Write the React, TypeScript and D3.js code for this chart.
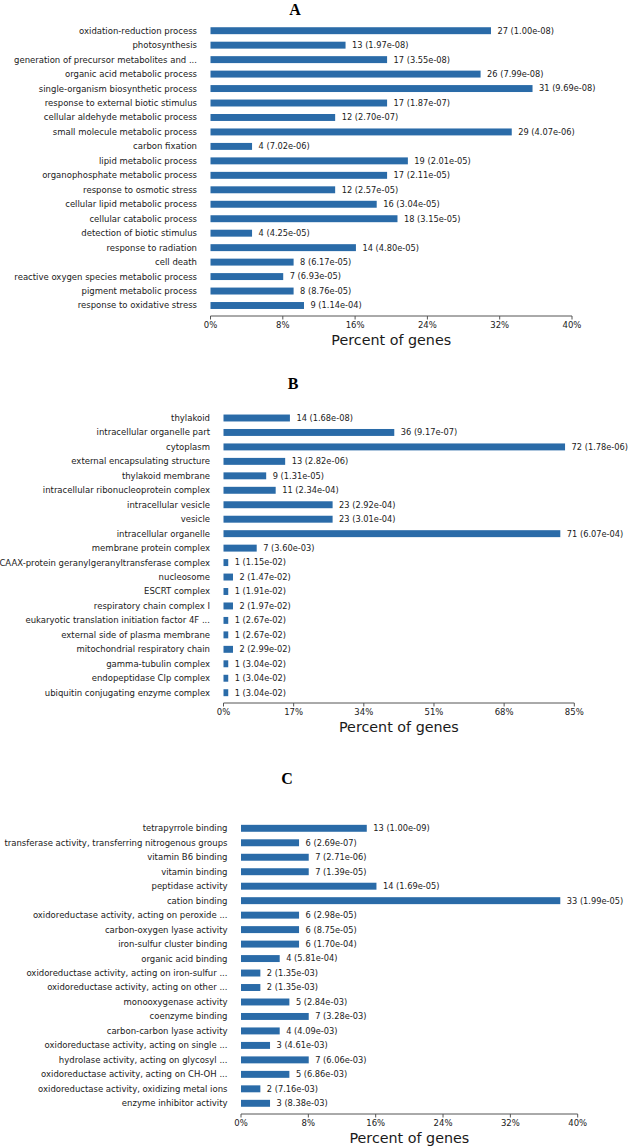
import React from "react";
import * as d3 from "d3";

// ---------- Panel A: biological process ----------
const labelsA = [
  "oxidation-reduction process",
  "photosynthesis",
  "generation of precursor metabolites and ...",
  "organic acid metabolic process",
  "single-organism biosynthetic process",
  "response to external biotic stimulus",
  "cellular aldehyde metabolic process",
  "small molecule metabolic process",
  "carbon fixation",
  "lipid metabolic process",
  "organophosphate metabolic process",
  "response to osmotic stress",
  "cellular lipid metabolic process",
  "cellular catabolic process",
  "detection of biotic stimulus",
  "response to radiation",
  "cell death",
  "reactive oxygen species metabolic process",
  "pigment metabolic process",
  "response to oxidative stress",
];
const countsA = [27, 13, 17, 26, 31, 17, 12, 29, 4, 19, 17, 12, 16, 18, 4, 14, 8, 7, 8, 9];
const pvalsA = [
  "1.00e-08", "1.97e-08", "3.55e-08", "7.99e-08", "9.69e-08", "1.87e-07", "2.70e-07",
  "4.07e-06", "7.02e-06", "2.01e-05", "2.11e-05", "2.57e-05", "3.04e-05", "3.15e-05",
  "4.25e-05", "4.80e-05", "6.17e-05", "6.93e-05", "8.76e-05", "1.14e-04",
];
const ticksA = [0, 8, 16, 24, 32, 40];

// ---------- Panel B: cellular component ----------
const labelsB = [
  "thylakoid",
  "intracellular organelle part",
  "cytoplasm",
  "external encapsulating structure",
  "thylakoid membrane",
  "intracellular ribonucleoprotein complex",
  "intracellular vesicle",
  "vesicle",
  "intracellular organelle",
  "membrane protein complex",
  "CAAX-protein geranylgeranyltransferase complex",
  "nucleosome",
  "ESCRT complex",
  "respiratory chain complex I",
  "eukaryotic translation initiation factor 4F ...",
  "external side of plasma membrane",
  "mitochondrial respiratory chain",
  "gamma-tubulin complex",
  "endopeptidase Clp complex",
  "ubiquitin conjugating enzyme complex",
];
const countsB = [14, 36, 72, 13, 9, 11, 23, 23, 71, 7, 1, 2, 1, 2, 1, 1, 2, 1, 1, 1];
const pvalsB = [
  "1.68e-08", "9.17e-07", "1.78e-06", "2.82e-06", "1.31e-05", "2.34e-04", "2.92e-04",
  "3.01e-04", "6.07e-04", "3.60e-03", "1.15e-02", "1.47e-02", "1.91e-02", "1.97e-02",
  "2.67e-02", "2.67e-02", "2.99e-02", "3.04e-02", "3.04e-02", "3.04e-02",
];
const ticksB = [0, 17, 34, 51, 68, 85];

// ---------- Panel C: molecular function ----------
const labelsC = [
  "tetrapyrrole binding",
  "transferase activity, transferring nitrogenous groups",
  "vitamin B6 binding",
  "vitamin binding",
  "peptidase activity",
  "cation binding",
  "oxidoreductase activity, acting on peroxide ...",
  "carbon-oxygen lyase activity",
  "iron-sulfur cluster binding",
  "organic acid binding",
  "oxidoreductase activity, acting on iron-sulfur ...",
  "oxidoreductase activity, acting on other ...",
  "monooxygenase activity",
  "coenzyme binding",
  "carbon-carbon lyase activity",
  "oxidoreductase activity, acting on single ...",
  "hydrolase activity, acting on glycosyl ...",
  "oxidoreductase activity, acting on CH-OH ...",
  "oxidoreductase activity, oxidizing metal ions",
  "enzyme inhibitor activity",
];
const countsC = [13, 6, 7, 7, 14, 33, 6, 6, 6, 4, 2, 2, 5, 7, 4, 3, 7, 5, 2, 3];
const pvalsC = [
  "1.00e-09", "2.69e-07", "2.71e-06", "1.39e-05", "1.69e-05", "1.99e-05", "2.98e-05",
  "8.75e-05", "1.70e-04", "5.81e-04", "1.35e-03", "1.35e-03", "2.84e-03", "3.28e-03",
  "4.09e-03", "4.61e-03", "6.06e-03", "6.86e-03", "7.16e-03", "8.38e-03",
];
const ticksC = [0, 8, 16, 24, 32, 40];

const TOTAL_GENES = 87;
const titles = ["A", "B", "C"];

const BAR_COLOR = "#2a6ba8";
const TEXT_COLOR = "#1a1a1a";
const FONT = "'DejaVu Sans', sans-serif";

type PanelProps = {
  title: string;
  labels: string[];
  counts: number[];
  pvals: string[];
  ticks: number[];
  titleX: number;
  titleY: number;
  x0: number;
  x1: number;
  firstY: number;
  lastY: number;
  axisY: number;
};

function Panel(p: PanelProps) {
  const n = p.labels.length;
  const step = (p.lastY - p.firstY) / (n - 1);
  const pad = 0.52;
  const y = d3
    .scaleBand<number>()
    .domain(d3.range(n))
    .range([p.firstY - step / 2, p.lastY + step / 2])
    .paddingInner(pad)
    .paddingOuter(pad / 2);
  const x = d3
    .scaleLinear()
    .domain([p.ticks[0], p.ticks[p.ticks.length - 1]])
    .range([p.x0, p.x1]);
  const pct = (c: number) => (c / TOTAL_GENES) * 100;

  return (
    <g>
      <text
        x={p.titleX}
        y={p.titleY}
        textAnchor="middle"
        fontFamily="'Liberation Serif', 'Times New Roman', serif"
        fontWeight="bold"
        fontSize={16}
        fill="#000"
      >
        {p.title}
      </text>
      {p.labels.map((lab, i) => {
        const yc = (y(i) as number) + y.bandwidth() / 2;
        const xe = x(pct(p.counts[i]));
        return (
          <g key={i}>
            <text
              x={p.x0 - 13.5}
              y={yc}
              dy="0.35em"
              textAnchor="end"
              fontFamily={FONT}
              fontSize={8.5}
              fill={TEXT_COLOR}
            >
              {lab}
            </text>
            <rect
              x={x(0)}
              y={y(i) as number}
              width={xe - x(0)}
              height={y.bandwidth()}
              fill={BAR_COLOR}
            />
            <text
              x={xe + 6.5}
              y={yc}
              dy="0.35em"
              fontFamily={FONT}
              fontSize={8.25}
              fill={TEXT_COLOR}
            >
              {`${p.counts[i]} (${p.pvals[i]})`}
            </text>
          </g>
        );
      })}
      <line
        x1={x(p.ticks[0])}
        x2={x(p.ticks[p.ticks.length - 1])}
        y1={p.axisY}
        y2={p.axisY}
        stroke="#555"
        strokeWidth={1}
      />
      {p.ticks.map((t) => (
        <g key={t}>
          <line x1={x(t)} x2={x(t)} y1={p.axisY} y2={p.axisY + 3.5} stroke="#555" strokeWidth={1} />
          <text
            x={x(t)}
            y={p.axisY + 11.5}
            textAnchor="middle"
            fontFamily={FONT}
            fontSize={8.5}
            fill={TEXT_COLOR}
          >
            {`${t}%`}
          </text>
        </g>
      ))}
      <text
        x={(p.x0 + p.x1) / 2}
        y={p.axisY + 29}
        textAnchor="middle"
        fontFamily={FONT}
        fontSize={14.3}
        fill={TEXT_COLOR}
      >
        Percent of genes
      </text>
    </g>
  );
}

export default function App() {
  return (
    <svg
      width={629}
      height={1146}
      style={{ position: "absolute", left: 0, top: 0, background: "#fff" }}
    >
      <rect x={0} y={0} width={629} height={1146} fill="#fff" />
      <Panel
        title={titles[0]}
        labels={labelsA}
        counts={countsA}
        pvals={pvalsA}
        ticks={ticksA}
        titleX={295}
        titleY={14.5}
        x0={210.5}
        x1={572}
        firstY={30.7}
        lastY={305.5}
        axisY={316}
      />
      <Panel
        title={titles[1]}
        labels={labelsB}
        counts={countsB}
        pvals={pvalsB}
        ticks={ticksB}
        titleX={293}
        titleY={389}
        x0={223.5}
        x1={574.3}
        firstY={418}
        lastY={692.7}
        axisY={703}
      />
      <Panel
        title={titles[2]}
        labels={labelsC}
        counts={countsC}
        pvals={pvalsC}
        ticks={ticksC}
        titleX={287}
        titleY={783.5}
        x0={241}
        x1={577.7}
        firstY={828.3}
        lastY={1103.3}
        axisY={1114}
      />
    </svg>
  );
}
